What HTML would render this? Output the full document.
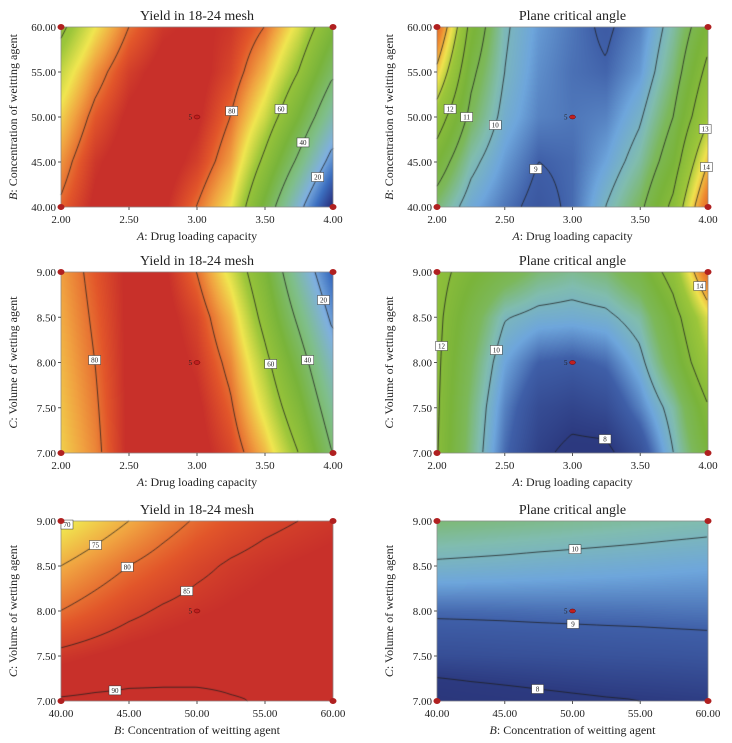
<!DOCTYPE html>
<html><head><meta charset="utf-8">
<style>
html,body{margin:0;padding:0;background:#fff;}
#wrap{position:relative;width:732px;height:743px;overflow:hidden;}
canvas,svg{position:absolute;left:0;top:0;}
text{font-family:"Liberation Serif",serif;fill:#222;}
</style></head>
<body>
<div id="wrap">
<canvas id="cv" width="732" height="743"></canvas>
<svg id="sv" width="732" height="743"></svg>
</div>
<script>
// ---- data ----
const ticksA = ["2.00","2.50","3.00","3.50","4.00"];
const ticksB = ["40.00","45.00","50.00","55.00","60.00"];
const ticksC = ["7.00","7.50","8.00","8.50","9.00"];
const yieldLevels = [0,20,40,60,80];
const yieldLevelsBC = [70,75,80,85,90];
const angleLevels = [9,10,11,12,13,14];
const angleLevelsAC = [8,10,12,14];
const angleLevelsBC = [8,9,10];
// grids: rows from top (max y) to bottom (min y), columns from min x to max x
const yieldAB = [
 [58,70,80,86,88,86,80,68,52],
 [66,77,85,89,89,84,74,60,42],
 [72,82,88,90,88,80,67,50,30],
 [77,86,90,90,85,76,58,38,16],
 [81,88,90,88,80,70,48,24,0]];
const angleAB = [
 [15,11.7,10.1,9.5,9.2,8.9,9.3,10.3,11.6],
 [13.8,11.2,10,9.4,9.15,9.05,9.5,10.6,12.2],
 [12.5,10.8,9.8,9.3,9.2,9.3,9.9,11,12.8],
 [11.5,10.2,9.5,9.0,9.1,9.6,10.3,11.5,13.9],
 [10.6,9.7,9.2,8.8,9.1,10.0,10.8,12.2,15]];
const yieldAC = [
 [76,82,88,88,80,68,52,30,10],
 [75,81,88,89,84,74,57,38,18],
 [74,80,88,90,86,78,63,46,26],
 [73,79,88,90,88,81,68,53,33],
 [72,78,88,90,89,84,74,60,40]];
const angleAC = [
 [12.3,11.6,11.1,10.6,10.4,10.6,11.2,12.4,15],
 [12.2,11.1,10.05,9.8,9.75,9.85,10.3,11.6,13.4],
 [12.15,10.8,9.6,9.0,8.9,9.1,9.8,11.1,12.8],
 [12.1,10.6,9.3,8.5,8.3,8.5,9.3,10.3,11.9],
 [12.05,10.5,9.1,8.2,7.8,7.8,8.6,10.0,11.4]];
const yieldBC = [
 [69,72,75,78,80.5,82.5,84,85,86],
 [75,77.5,80,82,84,85.5,86.5,87.3,88],
 [80,82,84,85.5,86.5,87.3,88,88.5,89],
 [86,87,88,88.5,89,89.3,89.5,89.6,89.7],
 [90.3,90.6,90.7,90.6,90.4,90.1,89.9,89.8,89.7]];
const angleBC = [
 [10.6,10.55,10.5,10.45,10.4,10.35,10.3,10.25,10.2],
 [9.9,9.87,9.84,9.8,9.77,9.74,9.71,9.67,9.64],
 [9.1,9.11,9.12,9.14,9.15,9.16,9.17,9.19,9.2],
 [8.55,8.57,8.6,8.62,8.65,8.68,8.7,8.72,8.75],
 [7.45,7.6,7.7,7.8,7.88,7.95,8.0,8.05,8.1]];

const yieldStops=[[0,"#272b78"],[12,"#3c6fc0"],[22,"#7fb0e0"],[35,"#7fbf8a"],[50,"#79b43a"],[62,"#9cc63a"],[70,"#f0e650"],[76,"#f0a040"],[82,"#e2562a"],[87,"#c8302a"],[100,"#c8302a"]];
const angleStops=[[7,"#2a3478"],[8,"#2c3a80"],[9,"#3f5fa8"],[9.6,"#6ea6dc"],[10.2,"#80bcb0"],[10.8,"#7cb85a"],[11.5,"#7ab43a"],[12.8,"#9cc63a"],[13.6,"#efe24e"],[14.5,"#ee8a30"],[15.5,"#d85020"]];

const panels=[
 {name:"yield-a-b",x0:61,y0:27,w:272,h:180,grid:yieldAB,stops:yieldStops,levels:yieldLevels,title:"Yield in 18-24 mesh",xt:ticksA,yt:ticksB,xl:["A",": Drug loading capacity"],yl:["B",": Concentration of weitting agent"]},
 {name:"angle-a-b",x0:437,y0:27,w:271,h:180,grid:angleAB,stops:angleStops,levels:angleLevels,title:"Plane critical angle",xt:ticksA,yt:ticksB,xl:["A",": Drug loading capacity"],yl:["B",": Concentration of weitting agent"]},
 {name:"yield-a-c",x0:61,y0:272,w:272,h:181,grid:yieldAC,stops:yieldStops,levels:yieldLevels,title:"Yield in 18-24 mesh",xt:ticksA,yt:ticksC,xl:["A",": Drug loading capacity"],yl:["C",": Volume of wetting agent"]},
 {name:"angle-a-c",x0:437,y0:272,w:271,h:181,grid:angleAC,stops:angleStops,levels:angleLevelsAC,title:"Plane critical angle",xt:ticksA,yt:ticksC,xl:["A",": Drug loading capacity"],yl:["C",": Volume of wetting agent"]},
 {name:"yield-b-c",x0:61,y0:521,w:272,h:180,grid:yieldBC,stops:yieldStops,levels:yieldLevelsBC,title:"Yield in 18-24 mesh",xt:ticksB,yt:ticksC,xl:["B",": Concentration of weitting agent"],yl:["C",": Volume of wetting agent"]},
 {name:"angle-b-c",x0:437,y0:521,w:271,h:180,grid:angleBC,stops:angleStops,levels:angleLevelsBC,title:"Plane critical angle",xt:ticksB,yt:ticksC,xl:["B",": Concentration of weitting agent"],yl:["C",": Volume of wetting agent"]}
];

function hex(c){return [parseInt(c.substr(1,2),16),parseInt(c.substr(3,2),16),parseInt(c.substr(5,2),16)];}
function cmap(stops,v){
 if(v<=stops[0][0])return hex(stops[0][1]);
 for(let i=1;i<stops.length;i++){if(v<=stops[i][0]){const t=(v-stops[i-1][0])/(stops[i][0]-stops[i-1][0]);const a=hex(stops[i-1][1]),b=hex(stops[i][1]);return [a[0]+(b[0]-a[0])*t,a[1]+(b[1]-a[1])*t,a[2]+(b[2]-a[2])*t];}}
 return hex(stops[stops.length-1][1]);
}
function sample(grid,u,v){
 const ny=grid.length,nx=grid[0].length;
 const fx=u*(nx-1),fy=v*(ny-1);
 const i=Math.min(nx-2,Math.floor(fx)),j=Math.min(ny-2,Math.floor(fy));
 const tx=fx-i,ty=fy-j;
 const a=grid[j][i],b=grid[j][i+1],c=grid[j+1][i],d=grid[j+1][i+1];
 return (a*(1-tx)+b*tx)*(1-ty)+(c*(1-tx)+d*tx)*ty;
}
const ctx=document.getElementById('cv').getContext('2d');
const svg=document.getElementById('sv');
const NS="http://www.w3.org/2000/svg";
function el(tag,attrs,txt){const e=document.createElementNS(NS,tag);for(const k in attrs)e.setAttribute(k,attrs[k]);if(txt!==undefined)e.textContent=txt;svg.appendChild(e);return e;}

panels.forEach(p=>{
 const img=ctx.createImageData(p.w,p.h);
 for(let y=0;y<p.h;y++)for(let x=0;x<p.w;x++){
  const c=cmap(p.stops,sample(p.grid,x/(p.w-1),y/(p.h-1)));
  const k=(y*p.w+x)*4;img.data[k]=c[0];img.data[k+1]=c[1];img.data[k+2]=c[2];img.data[k+3]=255;}
 ctx.putImageData(img,p.x0,p.y0);
 const s=2,nx=Math.floor(p.w/s),ny=Math.floor(p.h/s);
 const V=[];for(let j=0;j<=ny;j++){V.push([]);for(let i=0;i<=nx;i++)V[j].push(sample(p.grid,Math.min(1,i*s/(p.w-1)),Math.min(1,j*s/(p.h-1))));}
 ctx.strokeStyle="rgba(30,30,30,0.85)";ctx.lineWidth=0.9;
 const labelPts=[];
 p.levels.forEach(L=>{
  ctx.beginPath();const segs=[];
  for(let j=0;j<ny;j++)for(let i=0;i<nx;i++){
   const v=[V[j][i],V[j][i+1],V[j+1][i+1],V[j+1][i]];
   const pt=[[i,j],[i+1,j],[i+1,j+1],[i,j+1]];
   const cr=[];
   for(let e=0;e<4;e++){const a=v[e],b=v[(e+1)%4];if((a<L)!==(b<L)){const t=(L-a)/(b-a);const A=pt[e],B=pt[(e+1)%4];cr.push([p.x0+(A[0]+(B[0]-A[0])*t)*s,p.y0+(A[1]+(B[1]-A[1])*t)*s]);}}
   for(let q=0;q+1<cr.length;q+=2){ctx.moveTo(cr[q][0],cr[q][1]);ctx.lineTo(cr[q+1][0],cr[q+1][1]);segs.push(cr[q]);}
  }
  ctx.stroke();
  if(segs.length>6){segs.sort((a,b)=>a[1]-b[1]);labelPts.push([segs[Math.floor(segs.length/2)],L]);}
 });
 const g=el('g',{});
 
 el('rect',{x:p.x0,y:p.y0,width:p.w,height:p.h,fill:'none',stroke:'#777','stroke-width':0.6,});
 labelPts.forEach(([m,L])=>{
  el('rect',{x:m[0]-6,y:m[1]-4.5,width:12,height:9,fill:'#fff',stroke:'#333','stroke-width':0.5,});
  el('text',{x:m[0],y:m[1]+2.5,'font-size':7,'text-anchor':'middle',},L);
 });
 el('text',{x:p.x0+p.w/2,y:p.y0-7,'font-size':14,'text-anchor':'middle',},p.title);
 p.xt.forEach((t,i)=>{const x=p.x0+i*p.w/(p.xt.length-1);
  el('line',{x1:x,y1:p.y0+p.h,x2:x,y2:p.y0+p.h+3,stroke:'#555',});
  el('text',{x:x,y:p.y0+p.h+16,'font-size':11,'text-anchor':'middle',},t);});
 p.yt.forEach((t,i)=>{const y=p.y0+p.h-i*p.h/(p.yt.length-1);
  el('line',{x1:p.x0-3,y1:y,x2:p.x0,y2:y,stroke:'#555',});
  el('text',{x:p.x0-5,y:y+4,'font-size':11,'text-anchor':'end',},t);});
 const xt=el('text',{x:p.x0+p.w/2,y:p.y0+p.h+33,'font-size':12,'text-anchor':'middle',});
 const i1=document.createElementNS(NS,'tspan');i1.setAttribute('font-style','italic');i1.textContent=p.xl[0];xt.appendChild(i1);
 const i2=document.createElementNS(NS,'tspan');i2.textContent=p.xl[1];xt.appendChild(i2);
 const yx=p.x0-44,yy=p.y0+p.h/2;
 const yt=el('text',{x:yx,y:yy,'font-size':12,'text-anchor':'middle',transform:`rotate(-90 ${yx} ${yy})`,});
 const j1=document.createElementNS(NS,'tspan');j1.setAttribute('font-style','italic');j1.textContent=p.yl[0];yt.appendChild(j1);
 const j2=document.createElementNS(NS,'tspan');j2.textContent=p.yl[1];yt.appendChild(j2);
 [[p.x0,p.y0],[p.x0+p.w,p.y0],[p.x0,p.y0+p.h],[p.x0+p.w,p.y0+p.h]].forEach(c=>{
  el('ellipse',{cx:c[0],cy:c[1],rx:3.5,ry:3,fill:'#b02020',});});
 el('ellipse',{cx:p.x0+p.w/2,cy:p.y0+p.h/2,rx:3,ry:2,fill:'#c02020',stroke:'#600','stroke-width':0.5,});
 el('text',{x:p.x0+p.w/2-5,y:p.y0+p.h/2+2.5,'font-size':7,'text-anchor':'end',},'5');
});
</script>
</body></html>
